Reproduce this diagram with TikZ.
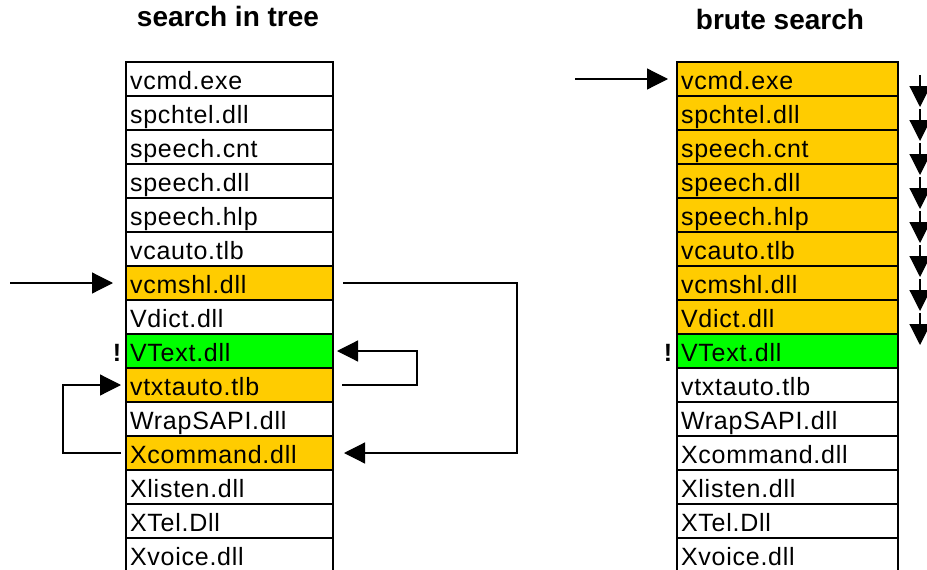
\documentclass[tikz,border=0pt]{standalone}
\usepackage{fontspec}
\setmainfont{Liberation Sans}
\newfontfamily\cellfont[LetterSpace=3]{Liberation Sans}
\usetikzlibrary{arrows.meta}
\definecolor{hitorange}{HTML}{FFCC00}
\definecolor{hitgreen}{HTML}{00FF00}
\begin{document}
\begin{tikzpicture}[x=1pt,y=-1pt,
  cell/.style={draw=black,line width=1.2pt,anchor=north west,
    inner xsep=4pt,inner ysep=5pt,text height=22pt,text depth=2pt,
    align=left,outer sep=0pt,font=\fontsize{25}{25}\cellfont},
  lcell/.style={cell,text width=199pt},
  rcell/.style={cell,text width=213pt},
  title/.style={font=\bfseries\fontsize{28}{28}\selectfont,anchor=base},
  bang/.style={font=\bfseries\fontsize{25}{25}\selectfont,anchor=base},
  arr/.style={-{Triangle[length=21pt,width=21pt]},line width=1.2pt}]
\useasboundingbox (0,0) rectangle (927,570);
\node[title] (tl) at (228,27) {search in tree};
\node[title] (tr) at (780,29) {brute search};
\foreach \t/\c [count=\i from 1] in {vcmd.exe/white,spchtel.dll/white,speech.cnt/white,speech.dll/white,speech.hlp/white,vcauto.tlb/white,vcmshl.dll/hitorange,Vdict.dll/white,VText.dll/hitgreen,vtxtauto.tlb/hitorange,WrapSAPI.dll/white,Xcommand.dll/hitorange,Xlisten.dll/white,XTel.Dll/white,Xvoice.dll/white}
  \node[lcell,fill=\c] (L\i) at ({126},{28+34*\i}) {\t};
\foreach \t/\c [count=\i from 1] in {vcmd.exe/hitorange,spchtel.dll/hitorange,speech.cnt/hitorange,speech.dll/hitorange,speech.hlp/hitorange,vcauto.tlb/hitorange,vcmshl.dll/hitorange,Vdict.dll/hitorange,VText.dll/hitgreen,vtxtauto.tlb/white,WrapSAPI.dll/white,Xcommand.dll/white,Xlisten.dll/white,XTel.Dll/white,Xvoice.dll/white}
  \node[rcell,fill=\c] (R\i) at ({677},{28+34*\i}) {\t};
\node[bang] (bl) at (117,361) {!};
\node[bang] (br) at (668,361) {!};
% left column connectors
\coordinate (inL) at (10,283);
\draw[arr,shorten >=13pt] (inL) -- (L7.west);
\draw[arr] ([xshift=10pt]L7.east) -- ++(174,0) |- ([xshift=11pt]L12.east);
\draw[arr] ([xshift=9pt]L10.east) -- ++(75,0) |- ([xshift=4pt]L9.east);
\draw[arr] ([xshift=-5pt]L12.west) -- ++(-58,0) |- ([xshift=-5pt]L10.west);
% right column connectors
\coordinate (inR) at (575,79);
\draw[arr,shorten >=9pt] (inR) -- (R1.west);
\foreach \i [evaluate=\i as \j using int(\i+1)] in {1,...,8}
  \draw[arr] ([xshift=22pt,yshift=4pt]R\i.east) -- ([xshift=22pt,yshift=-11pt]R\j.north east);
\end{tikzpicture}
\end{document}
